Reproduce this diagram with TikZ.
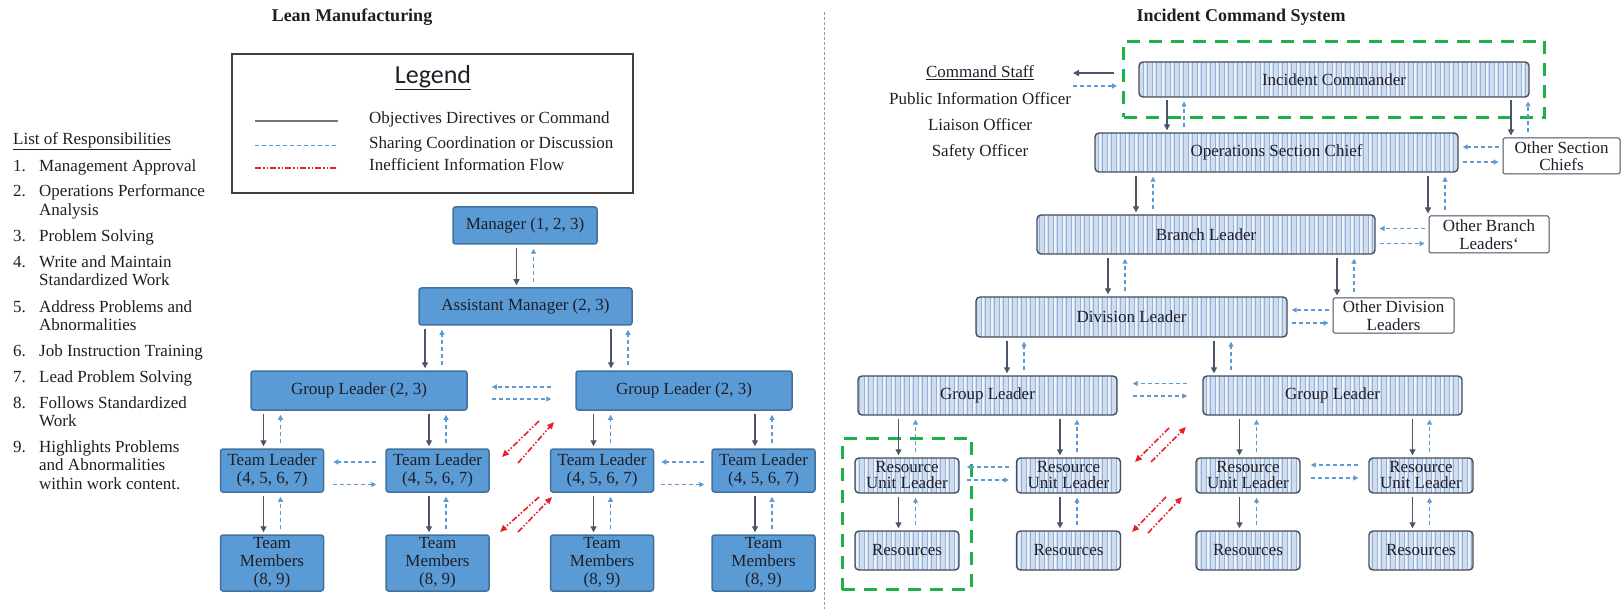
\documentclass[tikz,border=0pt]{standalone}
\usepackage{fontspec}
\setmainfont{Liberation Serif}
\newfontfamily\legendfont{Carlito}
\usetikzlibrary{arrows.meta,patterns.meta,fit}

\definecolor{lfill}{HTML}{5B9BD5}
\definecolor{lline}{HTML}{41719C}
\definecolor{cmdcol}{HTML}{4A5568}
\definecolor{sharecol}{HTML}{5B9BD5}
\definecolor{redcol}{HTML}{E8202A}
\definecolor{icsfill}{HTML}{CFDDEF}
\definecolor{icslight}{HTML}{EEF3FA}
\definecolor{icsstripe}{HTML}{93B0D6}
\definecolor{icsline}{HTML}{444C5C}
\definecolor{hlgreen}{HTML}{1DB04B}
\definecolor{txt}{HTML}{1E1E28}

\tikzset{
  lbox/.style={draw=lline, line width=1.5pt, fill=lfill, rounded corners=2.5pt,
    align=center, inner sep=0pt},
  ibox/.style={draw=icsline, line width=1.4pt, rounded corners=4pt,
    preaction={fill=icsfill},
    preaction={pattern={Lines[angle=90,distance=9pt,line width=2.6pt,xshift=2pt]}, pattern color=icslight},
    pattern={Lines[angle=90,distance=4.5pt,line width=1pt]}, pattern color=icsstripe,
    align=center, inner sep=0pt},
  obox/.style={draw=icsline, line width=1pt, fill=white, rounded corners=1.5pt,
    align=center, inner sep=0pt},
  cmd/.style={draw=cmdcol, line width=1.3pt, -{Triangle[length=6pt,width=6pt]},
    shorten <=3pt, shorten >=2pt},
  share/.style={draw=sharecol, line width=1.2pt, dash pattern=on 4pt off 3pt,
    -{Triangle[length=5pt,width=5pt]}, shorten <=5pt, shorten >=4pt},
  ineff/.style={draw=redcol, line width=1.6pt,
    dash pattern=on 6pt off 2pt on 1.5pt off 2pt on 1.5pt off 2pt,
    -{Triangle[length=7pt,width=6pt]}},
  hl/.style={draw=hlgreen, line width=3.5pt, dash pattern=on 13pt off 9pt, inner sep=0pt},
  plain/.style={inner sep=0pt},
}

% command arrow down and sharing arrow up between an upper and a lower box;
% #3 = offset of the command arrow from the lower box's centre
\newcommand\vpair[3]{%
  \draw[cmd] ([xshift=#3]#2.north |- #1.south) -- ([xshift=#3]#2.north);
  \draw[share] ([xshift=#3+17pt]#2.north) -- ([xshift=#3+17pt]#2.north |- #1.south);
}
% sharing arrows both ways between a left and a right box;
% #3 raise of the leftward arrow, #4 drop of the rightward arrow, #5 end gap
\newcommand\hpair[5]{%
  \draw[share, shorten <=#5, shorten >=#5] ([yshift=#3]#2.west) -- ([yshift=#3]#2.west -| #1.east);
  \draw[share, shorten <=#5, shorten >=#5] ([yshift=-#4]#1.east) -- ([yshift=-#4]#1.east -| #2.west);
}

\begin{document}
\begin{tikzpicture}[x=1pt, y=-1pt, font=\fontsize{17}{18.6}\selectfont, text=txt]
\useasboundingbox (0,0) rectangle (1621,609);

% ---------- titles and divider ----------
\node[plain, font=\bfseries\fontsize{18}{20}\selectfont] (ttlL) at (352,17) {Lean Manufacturing};
\node[plain, font=\bfseries\fontsize{18}{20}\selectfont] (ttlR) at (1241,17) {Incident Command System};
\coordinate (divtop) at (824,12);
\coordinate (divbot) at (824,609);
\draw[black!40, line width=0.8pt, dash pattern=on 3pt off 2pt] (divtop) -- (divbot);

% ---------- list of responsibilities ----------
\node[plain, anchor=mid west] (lhead) at (13,142) {\underline{List of Responsibilities}};
\node[plain, anchor=mid west] (n1) at (13,169) {1.};
\node[plain, anchor=mid west] (t1) at (39,169) {Management Approval};
\node[plain, anchor=mid west] (n2) at (13,194) {2.};
\node[plain, anchor=mid west] (t2a) at (39,194) {Operations Performance};
\node[plain, anchor=mid west] (t2b) at (39,213) {Analysis};
\node[plain, anchor=mid west] (n3) at (13,239) {3.};
\node[plain, anchor=mid west] (t3) at (39,239) {Problem Solving};
\node[plain, anchor=mid west] (n4) at (13,265) {4.};
\node[plain, anchor=mid west] (t4a) at (39,265) {Write and Maintain};
\node[plain, anchor=mid west] (t4b) at (39,283) {Standardized Work};
\node[plain, anchor=mid west] (n5) at (13,310) {5.};
\node[plain, anchor=mid west] (t5a) at (39,310) {Address Problems and};
\node[plain, anchor=mid west] (t5b) at (39,328) {Abnormalities};
\node[plain, anchor=mid west] (n6) at (13,354) {6.};
\node[plain, anchor=mid west] (t6) at (39,354) {Job Instruction Training};
\node[plain, anchor=mid west] (n7) at (13,380) {7.};
\node[plain, anchor=mid west] (t7) at (39,380) {Lead Problem Solving};
\node[plain, anchor=mid west] (n8) at (13,406) {8.};
\node[plain, anchor=mid west] (t8a) at (39,406) {Follows Standardized};
\node[plain, anchor=mid west] (t8b) at (39,424) {Work};
\node[plain, anchor=mid west] (n9) at (13,450) {9.};
\node[plain, anchor=mid west] (t9a) at (39,450) {Highlights Problems};
\node[plain, anchor=mid west] (t9b) at (39,468.5) {and Abnormalities};
\node[plain, anchor=mid west] (t9c) at (39,487) {within work content.};

% ---------- legend ----------
\node[draw=black!75, line width=1.2pt, minimum width=401pt, minimum height=139pt, inner sep=0pt]
  (legend) at (432.5,123.5) {};
\node[plain, font=\legendfont\fontsize{26}{28}\selectfont] (legtitle) at (433,78) {\underline{Legend}};
\coordinate (lg1a) at (255,121); \coordinate (lg1b) at (338,121);
\coordinate (lg2a) at (255,146); \coordinate (lg2b) at (338,146);
\coordinate (lg3a) at (255,168); \coordinate (lg3b) at (338,168);
\draw[cmdcol!80, line width=1.5pt] (lg1a) -- (lg1b);
\draw[sharecol, line width=1pt, dash pattern=on 4pt off 3pt] (lg2a) -- (lg2b);
\draw[redcol, line width=1.6pt, dash pattern=on 6pt off 2pt on 1.5pt off 2pt on 1.5pt off 2pt] (lg3a) -- (lg3b);
\node[plain, anchor=mid west] (lgt1) at (369,121) {Objectives Directives or Command};
\node[plain, anchor=mid west] (lgt2) at (369,146) {Sharing Coordination or Discussion};
\node[plain, anchor=mid west] (lgt3) at (369,168) {Inefficient Information Flow};

% ---------- lean manufacturing tree ----------
\node[lbox, minimum width=144pt, minimum height=37pt] (mgr) at (525,225.5) {Manager (1, 2, 3)};
\node[lbox, minimum width=213pt, minimum height=37pt] (am) at (525.5,306.5) {Assistant Manager (2, 3)};
\node[lbox, minimum width=216pt, minimum height=39pt] (gll) at (359,390.5) {Group Leader (2, 3)};
\node[lbox, minimum width=216pt, minimum height=39pt] (glr) at (684,390.5) {Group Leader (2, 3)};
\foreach \n/\x in {1/272, 2/437.5, 3/602, 4/763.5}{
  \node[lbox, minimum width=103pt, minimum height=43pt, font=\fontsize{17}{18}\selectfont]
    (tl\n) at (\x,470.5) {Team Leader\\(4, 5, 6, 7)};
  \node[lbox, minimum width=103pt, minimum height=56pt, font=\fontsize{17}{18}\selectfont]
    (tm\n) at (\x,563) {Team\\Members\\(8, 9)};
}

\vpair{mgr}{am}{-9pt}
\vpair{am}{gll}{66pt}
\vpair{am}{glr}{-73pt}
\vpair{gll}{tl1}{-8.5pt}
\vpair{gll}{tl2}{-8.5pt}
\vpair{glr}{tl3}{-8.5pt}
\vpair{glr}{tl4}{-8.5pt}
\foreach \n in {1,2,3,4}{\vpair{tl\n}{tm\n}{-8.5pt}}
\hpair{gll}{glr}{3.5pt}{8.5pt}{24pt}
\hpair{tl1}{tl2}{8.5pt}{14pt}{9pt}
\hpair{tl3}{tl4}{8.5pt}{14pt}{7pt}

% inefficient flow between the two groups
\coordinate (la1) at (539,421); \coordinate (la2) at (502,457);
\coordinate (la3) at (518,463); \coordinate (la4) at (554,422);
\coordinate (lb1) at (539,497); \coordinate (lb2) at (500,532);
\coordinate (lb3) at (518,532); \coordinate (lb4) at (552,497);
\draw[ineff] (la1) -- (la2);
\draw[ineff] (la3) -- (la4);
\draw[ineff] (lb1) -- (lb2);
\draw[ineff] (lb3) -- (lb4);

% ---------- incident command system ----------
\node[plain] (cstaff) at (980,73) {\underline{Command Staff}};
\node[plain] (pio) at (980,99) {Public Information Officer};
\node[plain] (lio) at (980,125) {Liaison Officer};
\node[plain] (sfo) at (980,152) {Safety Officer};

\node[ibox, minimum width=390pt, minimum height=35pt] (ic) at (1334,79.5) {Incident Commander};
\node[ibox, minimum width=363pt, minimum height=39pt] (ops) at (1276.5,152.5) {Operations Section Chief};
\node[obox, minimum width=117pt, minimum height=36pt, font=\fontsize{17}{17.5}\selectfont]
  (osc) at (1561.5,156) {Other Section\\Chiefs};
\node[ibox, minimum width=338pt, minimum height=39pt] (br) at (1206,234.5) {Branch Leader};
\node[obox, minimum width=120pt, minimum height=37pt, font=\fontsize{17}{17.5}\selectfont]
  (obl) at (1489,234.5) {Other Branch\\Leaders`};
\node[ibox, minimum width=311pt, minimum height=40pt] (div) at (1131.5,317) {Division Leader};
\node[obox, minimum width=121pt, minimum height=35pt, font=\fontsize{17}{17.5}\selectfont]
  (odl) at (1393.5,315.5) {Other Division\\Leaders};
\node[ibox, minimum width=259pt, minimum height=39pt] (gl1) at (987.5,395.5) {Group Leader};
\node[ibox, minimum width=259pt, minimum height=39pt] (gl2) at (1332.5,395.5) {Group Leader};
\foreach \n/\x in {1/907, 2/1068.5, 3/1248, 4/1421}{
  \node[ibox, minimum width=104pt, minimum height=35pt, font=\fontsize{17}{16}\selectfont]
    (rul\n) at (\x,475.5) {Resource\\Unit Leader};
  \node[ibox, minimum width=104pt, minimum height=39pt] (res\n) at (\x,550.5) {Resources};
}

% highlighted groups
\node[hl, fit=(ic), inner xsep=15pt, inner ysep=20pt] (icgroup) {};
\node[hl, fit=(rul1)(res1), inner xsep=12pt, inner ysep=19pt] (unitgroup) {};

% command staff exchange
\coordinate (csA) at (1114,73); \coordinate (csB) at (1073,73);
\coordinate (csC) at (1073,86); \coordinate (csD) at (1117,86);
\draw[cmd, shorten <=0pt, shorten >=0pt] (csA) -- (csB);
\draw[share, shorten <=0pt, shorten >=0pt] (csC) -- (csD);

\vpair{ic}{ops}{-109.5pt}
\vpair{ic}{osc}{-50.5pt}
\vpair{ops}{br}{-70pt}
\vpair{ops}{obl}{-61pt}
\vpair{br}{div}{-23.5pt}
\vpair{br}{odl}{-56.5pt}
\vpair{div}{gl1}{19.5pt}
\vpair{div}{gl2}{-118.5pt}
\vpair{gl1}{rul1}{-8.5pt}
\vpair{gl1}{rul2}{-8.5pt}
\vpair{gl2}{rul3}{-8.5pt}
\vpair{gl2}{rul4}{-8.5pt}
\foreach \n in {1,2,3,4}{\vpair{rul\n}{res\n}{-8.5pt}}

\hpair{ops}{osc}{9pt}{9.5pt}{4pt}
\hpair{br}{obl}{6pt}{9pt}{4pt}
\hpair{div}{odl}{5.5pt}{6pt}{4pt}
\hpair{gl1}{gl2}{12pt}{0.5pt}{15pt}
\hpair{rul1}{rul2}{8.5pt}{4.5pt}{7pt}
\hpair{rul3}{rul4}{10.5pt}{2.5pt}{10pt}

\coordinate (ra1) at (1169,428); \coordinate (ra2) at (1135,462);
\coordinate (ra3) at (1151,462); \coordinate (ra4) at (1186,427);
\coordinate (rb1) at (1166,497); \coordinate (rb2) at (1132,532);
\coordinate (rb3) at (1148,533); \coordinate (rb4) at (1182,497);
\draw[ineff] (ra1) -- (ra2);
\draw[ineff] (ra3) -- (ra4);
\draw[ineff] (rb1) -- (rb2);
\draw[ineff] (rb3) -- (rb4);
\end{tikzpicture}
\end{document}
